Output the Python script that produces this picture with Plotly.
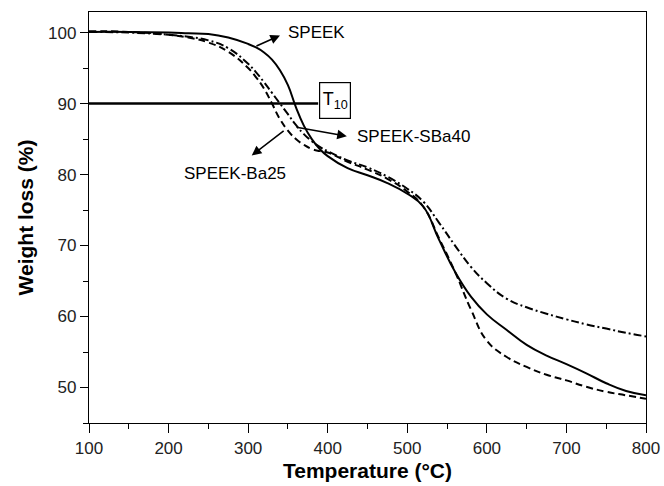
import plotly.graph_objects as go

temps = [100, 150, 200, 225, 250, 275, 300, 310, 320, 330, 340, 350, 360, 370, 380, 390,
         400, 425, 450, 475, 500, 520, 540, 560, 580, 600, 625, 650, 675, 700, 725, 750, 775, 800]

speek = [100.1, 100.1, 100.0, 99.9, 99.8, 99.3, 98.4, 97.9, 97.2, 96.2, 94.7, 92.6, 89.5, 86.9, 85.0, 83.6,
         82.6, 80.9, 79.9, 78.8, 77.3, 75.5, 70.8, 66.3, 62.8, 60.3, 58.1, 56.0, 54.5, 53.3, 52.0, 50.6, 49.5, 48.9]

speek_ba25 = [100.2, 100.1, 99.7, 99.3, 98.6, 97.3, 95.0, 93.7, 92.1, 90.0, 87.8, 86.2, 85.0, 84.2, 83.6, 83.3,
              83.1, 81.8, 80.7, 79.4, 77.6, 75.5, 71.0, 66.3, 61.0, 56.6, 54.3, 52.9, 51.8, 51.0, 50.1, 49.4, 48.9, 48.4]

speek_sba40 = [100.1, 100.0, 99.7, 99.4, 98.9, 97.8, 95.6, 94.4, 93.0, 91.5, 90.0, 88.5, 87.0, 85.7, 84.7, 83.9,
               83.3, 82.0, 81.0, 79.7, 78.0, 76.2, 73.2, 70.0, 67.0, 64.7, 62.5, 61.3, 60.4, 59.6, 58.9, 58.3, 57.7, 57.2]

t10_x = [100, 388]
t10_y = [90, 90]

FONT = "Arial, Liberation Sans, sans-serif"

fig = go.Figure()
fig.add_trace(go.Scatter(x=temps, y=speek, mode="lines", name="SPEEK",
                         line=dict(color="black", width=2, shape="spline", smoothing=1.3)))
fig.add_trace(go.Scatter(x=temps, y=speek_ba25, mode="lines", name="SPEEK-Ba25",
                         line=dict(color="black", width=2, dash="7px,4px", shape="spline", smoothing=1.3)))
fig.add_trace(go.Scatter(x=temps, y=speek_sba40, mode="lines", name="SPEEK-SBa40",
                         line=dict(color="black", width=2, dash="8px,3px,2px,3px", shape="spline", smoothing=1.3)))
fig.add_trace(go.Scatter(x=t10_x, y=t10_y, mode="lines", name="T10",
                         line=dict(color="black", width=2.5)))

# arrows (head near the label, tail on the curve)
arrows = [
    dict(x=340, y=99.6, ax=308.6, ay=98.0),
    dict(x=424, y=85.4, ax=359, ay=86.7),
    dict(x=304.5, y=82.7, ax=346.5, ay=86.3),
]
for a in arrows:
    fig.add_annotation(x=a["x"], y=a["y"], ax=a["ax"], ay=a["ay"], xref="x", yref="y",
                       axref="x", ayref="y", text="", showarrow=True, arrowhead=2,
                       arrowsize=1.2, arrowwidth=1.6, arrowcolor="black")

fig.add_annotation(x=347.6, y=100.0, text="SPEEK", showarrow=False, xanchor="left",
                   font=dict(family=FONT, size=17, color="black"))
fig.add_annotation(x=434.5, y=85.3, text="SPEEK-SBa40", showarrow=False, xanchor="left",
                   font=dict(family=FONT, size=17, color="black"))
fig.add_annotation(x=350.3, y=80.2, text="SPEEK-Ba25", showarrow=False, xanchor="right",
                   font=dict(family=FONT, size=17, color="black"))
fig.add_annotation(x=408.7, y=90.5, text="T<sub>10</sub>", showarrow=False,
                   width=28, height=33, align="center", valign="middle",
                   bordercolor="black", borderwidth=1.2, borderpad=1, bgcolor="white",
                   font=dict(family=FONT, size=18, color="black"))

axis_common = dict(showline=True, linecolor="black", linewidth=1.3, mirror=True,
                   ticks="outside", tickwidth=1.3, tickcolor="black",
                   showgrid=False, zeroline=False, automargin=False,
                   tickfont=dict(family=FONT, size=17, color="#222"))

fig.update_xaxes(range=[100, 800], dtick=100, tick0=100, ticklen=9,
                 minor=dict(dtick=50, ticks="outside", ticklen=5, tickcolor="black", tickwidth=1.2),
                 title=dict(text="<b>Temperature (°C)</b>", font=dict(family=FONT, size=21, color="black"),
                            standoff=6),
                 **axis_common)
fig.update_yaxes(range=[45, 102.9], dtick=10, tick0=50, ticklen=8,
                 minor=dict(dtick=5, ticks="outside", ticklen=5, tickcolor="black", tickwidth=1.2),
                 title=dict(text="<b>Weight loss (%)</b>", font=dict(family=FONT, size=21, color="black"),
                            standoff=8),
                 **axis_common)

fig.update_layout(width=664, height=486, margin=dict(l=89, r=18, t=12, b=63),
                  plot_bgcolor="white", paper_bgcolor="white", showlegend=False)

fig.write_html("out.html")
